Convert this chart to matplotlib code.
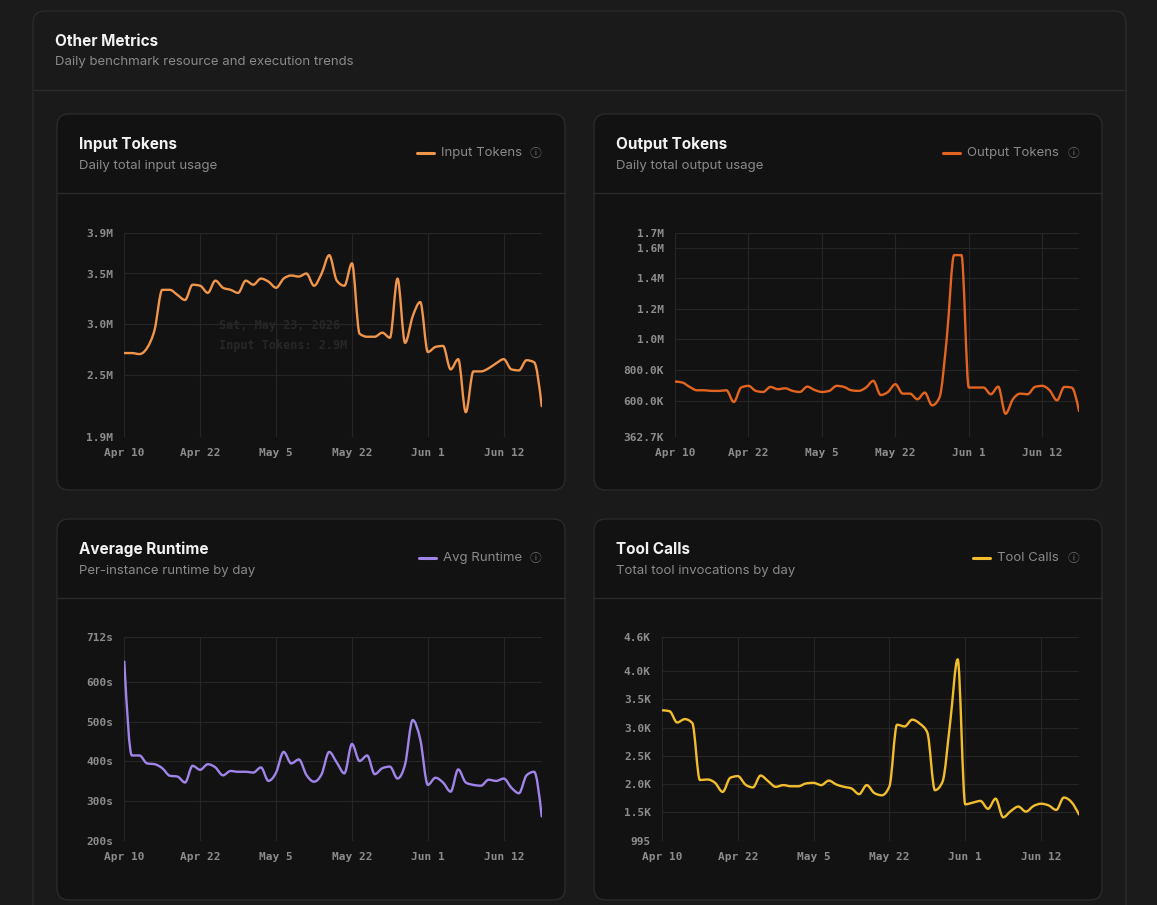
import numpy as np
import matplotlib.pyplot as plt
from matplotlib.path import Path
from matplotlib.patches import FancyBboxPatch, PathPatch

# ---- data ----
x_labels = ['Apr 10', 'Apr 22', 'May 5', 'May 22', 'Jun 1', 'Jun 12']
x_ticks = [0, 10, 20, 30, 40, 50]

# millions
input_tokens = [2.72, 2.72, 2.71, 2.77, 2.95, 3.34, 3.34, 3.29, 3.24, 3.39,
                3.38, 3.31, 3.43, 3.36, 3.34, 3.31, 3.43, 3.39, 3.45, 3.42,
                3.36, 3.45, 3.48, 3.47, 3.50, 3.38, 3.50, 3.68, 3.43, 3.38,
                3.60, 2.91, 2.88, 2.88, 2.92, 2.87, 3.45, 2.82, 3.08, 3.22,
                2.73, 2.78, 2.79, 2.56, 2.66, 2.14, 2.54, 2.54, 2.57, 2.62,
                2.66, 2.56, 2.55, 2.65, 2.63, 2.20]
# thousands
output_tokens = [724, 718, 689, 667, 667, 663, 663, 667, 590, 685,
                 696, 663, 656, 689, 674, 680, 663, 656, 691, 669,
                 656, 663, 696, 689, 667, 663, 685, 729, 636, 656,
                 707, 645, 645, 608, 652, 568, 619, 1010, 1553, 1553,
                 685, 685, 685, 641, 691, 513, 608, 645, 641, 689,
                 696, 667, 601, 689, 685, 531]
# seconds
avg_runtime = [651, 415, 415, 395, 393, 383, 364, 362, 347, 389,
               379, 393, 385, 365, 376, 374, 374, 372, 385, 351,
               372, 424, 395, 405, 366, 349, 368, 424, 397, 370,
               444, 401, 415, 368, 383, 387, 357, 393, 504, 455,
               341, 359, 347, 324, 380, 347, 341, 339, 354, 351,
               357, 334, 320, 365, 374, 262]
# calls
tool_calls = [3306, 3290, 3090, 3150, 3080, 2070, 2080, 2020, 1860, 2110,
              2140, 1990, 1940, 2150, 2050, 1950, 1980, 1960, 1960, 2010,
              2020, 1980, 2060, 1990, 1950, 1920, 1820, 1980, 1840, 1800,
              1960, 3050, 3020, 3140, 3070, 2910, 1890, 2040, 3080, 4210,
              1640, 1670, 1700, 1560, 1740, 1410, 1520, 1600, 1510, 1610,
              1650, 1620, 1540, 1760, 1680, 1460]

input_yticks = [1.9, 2.5, 3.0, 3.5, 3.9]
input_ylabels = ['1.9M', '2.5M', '3.0M', '3.5M', '3.9M']
output_yticks = [362.7, 600, 800, 1000, 1200, 1400, 1600, 1700]
output_ylabels = ['362.7K', '600.0K', '800.0K', '1.0M', '1.2M', '1.4M', '1.6M', '1.7M']
runtime_yticks = [200, 300, 400, 500, 600, 712]
runtime_ylabels = ['200s', '300s', '400s', '500s', '600s', '712s']
calls_yticks = [995, 1500, 2000, 2500, 3000, 3500, 4000, 4600]
calls_ylabels = ['995', '1.5K', '2.0K', '2.5K', '3.0K', '3.5K', '4.0K', '4.6K']

W, H = 1157, 905
PAGE = '#1b1b1b'
CARD = '#1a1a1a'
INNER = '#121212'
BORDER = '#2a2a2a'
GRID = '#262626'
TICK = '#8c8c8c'
SANS = ['Inter', 'DejaVu Sans']
MONO = ['DejaVu Sans Mono']
ICON = ['Noto Sans CJK SC', 'DejaVu Sans']


def monotone_path(x, y):
    # monotone-x cubic, as the web chart draws it
    x = np.asarray(x, float)
    y = np.asarray(y, float)
    n = len(x)
    h = np.diff(x)
    s = np.diff(y) / h
    t = np.zeros(n)
    for i in range(1, n - 1):
        s0, s1 = s[i - 1], s[i]
        p = (s0 * h[i] + s1 * h[i - 1]) / (h[i - 1] + h[i])
        t[i] = (np.sign(s0) + np.sign(s1)) * min(abs(s0), abs(s1), 0.5 * abs(p))
    t[0] = (3 * s[0] - t[1]) / 2
    t[-1] = (3 * s[-1] - t[-2]) / 2
    verts = [(x[0], y[0])]
    codes = [Path.MOVETO]
    for i in range(n - 1):
        d = h[i] / 3
        verts += [(x[i] + d, y[i] + d * t[i]), (x[i + 1] - d, y[i + 1] - d * t[i + 1]),
                  (x[i + 1], y[i + 1])]
        codes += [Path.CURVE4] * 3
    return Path(verts, codes)


fig = plt.figure(figsize=(W / 100, H / 100), dpi=100, facecolor=PAGE)
bg = fig.add_axes([0, 0, 1, 1])
bg.set_xlim(0, W)
bg.set_ylim(H, 0)
bg.axis('off')
bg.set_facecolor(PAGE)

# outer card
bg.add_patch(FancyBboxPatch((33, 11), 1093, 960, boxstyle='round,pad=0,rounding_size=12',
                            fc=CARD, ec=BORDER, lw=1))
bg.plot([33, 1126], [90, 90], color=BORDER, lw=1)
bg.text(55, 41, 'Other Metrics', color='#f2f2f2', fontsize=11, fontweight='bold',
        family=SANS, va='center')
bg.text(55, 62, 'Daily benchmark resource and execution trends', color='#8a8a8a',
        fontsize=9.5, family=SANS, va='center')

panels = [
    dict(box=(57, 114, 565, 490), plot=(124.3, 232.7, 541.7, 436.7),
         title='Input Tokens', sub='Daily total input usage', leg='Input Tokens',
         color='#f0954a', data=input_tokens, yt=input_yticks, yl=input_ylabels),
    dict(box=(594, 114, 1102, 490), plot=(675, 232.7, 1079, 436.7),
         title='Output Tokens', sub='Daily total output usage', leg='Output Tokens',
         color='#e3641f', data=output_tokens, yt=output_yticks, yl=output_ylabels),
    dict(box=(57, 519, 565, 900), plot=(124.3, 637.3, 541.7, 841),
         title='Average Runtime', sub='Per-instance runtime by day', leg='Avg Runtime',
         color='#a084ea', data=avg_runtime, yt=runtime_yticks, yl=runtime_ylabels),
    dict(box=(594, 519, 1102, 900), plot=(662, 637.3, 1079, 840.7),
         title='Tool Calls', sub='Total tool invocations by day', leg='Tool Calls',
         color='#f2bd2c', data=tool_calls, yt=calls_yticks, yl=calls_ylabels),
]

renderer = fig.canvas.get_renderer()
for p in panels:
    x0, y0, x1, y1 = p['box']
    bg.add_patch(FancyBboxPatch((x0, y0), x1 - x0, y1 - y0,
                                boxstyle='round,pad=0,rounding_size=12',
                                fc=INNER, ec=BORDER, lw=1))
    bg.plot([x0, x1], [y0 + 79, y0 + 79], color=BORDER, lw=1)
    bg.text(x0 + 22, y0 + 30, p['title'], color='#f2f2f2', fontsize=11,
            fontweight='bold', family=SANS, va='center')
    bg.text(x0 + 22, y0 + 52, p['sub'], color='#8a8a8a', fontsize=9.5,
            family=SANS, va='center')
    # legend
    icon_x = x1 - 29
    bg.text(icon_x, y0 + 39, '\u24d8', color='#6f6f6f', fontsize=8.5,
            family=ICON, ha='center', va='center')
    lt = bg.text(icon_x - 14, y0 + 39, p['leg'], color='#8a8a8a', fontsize=9.5,
                 family=SANS, ha='right', va='center')
    bb = lt.get_window_extent(renderer)
    bg.plot([bb.x0 - 24, bb.x0 - 7], [y0 + 39, y0 + 39], color=p['color'],
            lw=2.2, solid_capstyle='round')

    # chart
    px0, py0, px1, py1 = p['plot']
    ax = fig.add_axes([px0 / W, 1 - py1 / H, (px1 - px0) / W, (py1 - py0) / H])
    ax.set_facecolor('none')
    n = len(p['data'])
    xs = np.arange(n)
    ax.add_patch(PathPatch(monotone_path(xs, p['data']), fill=False,
                           ec=p['color'], lw=1.7, capstyle='round', joinstyle='round',
                           zorder=3))
    ax.set_xlim(0, n - 1)
    ax.set_ylim(p['yt'][0], p['yt'][-1])
    ax.set_xticks(x_ticks)
    ax.set_xticklabels(x_labels)
    ax.set_yticks(p['yt'])
    ax.set_yticklabels(p['yl'])
    ax.grid(True, color=GRID, lw=0.8)
    ax.set_axisbelow(True)
    for s in ax.spines.values():
        s.set_visible(False)
    ax.tick_params(length=0, colors=TICK, labelsize=8, pad=8)
    for lab in ax.get_xticklabels() + ax.get_yticklabels():
        lab.set_family(MONO)
        lab.set_fontweight('bold')

# faded tooltip left behind in the first chart
bg.text(219, 325, 'Sat, May 23, 2026', color='#272727', fontsize=8.5,
        family=MONO, fontweight='bold', va='center')
bg.text(219, 345, 'Input Tokens: 2.9M', color='#272727', fontsize=8.5,
        family=MONO, fontweight='bold', va='center')

fig.savefig('out.png', dpi=100, facecolor=PAGE)
